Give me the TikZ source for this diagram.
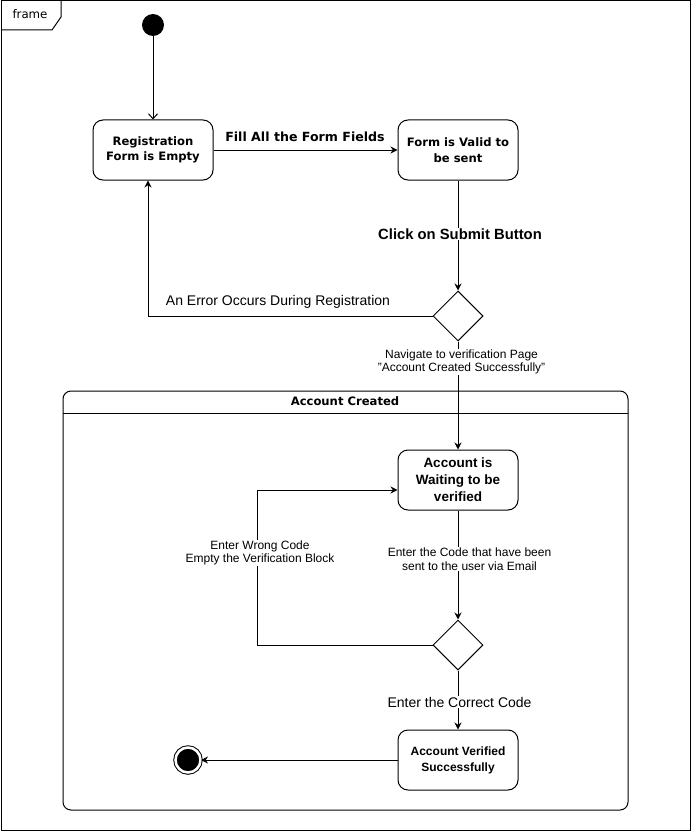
\documentclass[tikz,border=0pt]{standalone}
\usepackage{fontspec}
\setmainfont{Liberation Sans}
\newfontfamily\dejavu{DejaVu Sans}
\usetikzlibrary{shapes.geometric,arrows.meta}

\tikzset{
  x=1pt, y=-1pt,
  every path/.style={line width=1pt},
  state/.style={draw, rounded corners=10pt, minimum width=120pt, minimum height=60pt,
    inner sep=2pt, align=center},
  statedv/.style={state, font={\dejavu\bfseries\fontsize{11.6}{15.5}\selectfont}},
  statear/.style={state, font={\bfseries\fontsize{13.5}{17}\selectfont}},
  choice/.style={draw, diamond, minimum width=50pt, minimum height=50pt, inner sep=0pt},
  initial/.style={circle, fill=black, minimum size=22pt, inner sep=0pt},
  final/.style={circle, draw, double=white, double distance=2.5pt, fill=black,
    minimum size=25pt, inner sep=0pt},
  flow/.style={-{Stealth[length=7pt,width=7pt]}},
  openflow/.style={-{Straight Barb[length=5pt,width=9pt]}},
  lbl/.style={fill=white, inner sep=1pt, align=center},
  smalllbl/.style={lbl, font={\fontsize{12}{13.5}\selectfont}},
}

\begin{document}
\begin{tikzpicture}
  \useasboundingbox (0,0) rectangle (692,832);

  % outer frame with its name tab
  \draw (1,1) rectangle (690.5,830);
  \draw (1,30) -- (52,30) -- (61,17) -- (61,1);
  \node[font={\dejavu\fontsize{11.8}{14}\selectfont}] (frametitle) at (30,14) {frame};

  % composite state
  \draw[rounded corners=8pt] (63,391) rectangle (628,810);
  \draw (63,413) -- (628,413);
  \node[font={\dejavu\bfseries\fontsize{11.6}{14}\selectfont}] (compTitle) at (345,401) {Account Created};

  % states
  \node[initial] (start) at (153,25) {};
  \node[statedv] (reg) at (153,150) {Registration\\Form is Empty};
  \node[statedv] (valid) at (458,150) {Form is Valid to\\be sent};
  \node[choice] (d1) at (458,316) {};
  \node[statear] (wait) at (458,480) {Account is\\Waiting to be\\verified};
  \node[choice] (d2) at (458,645) {};
  \node[state, font={\bfseries\fontsize{12}{16}\selectfont}] (done) at (458,760) {Account Verified\\Successfully};
  \node[final] (end) at (188,760) {};

  % transitions
  \draw[openflow] (start) -- (reg);
  \draw[flow] (reg) -- (valid);
  \node[font={\dejavu\bfseries\fontsize{12.6}{15}\selectfont}] (fillLbl) at (305,137) {Fill All the Form Fields};

  \draw[flow] (valid) -- (d1);
  \node[lbl, font={\bfseries\fontsize{14.8}{17}\selectfont}] (clickLbl) at (460,234) {Click on Submit Button};

  \draw[flow] (d1.west) -| ([xshift=-5pt]reg.south);
  \node[font={\fontsize{14}{16}\selectfont}] (errLbl) at (278,302) {An Error Occurs During Registration};

  \draw[flow] (d1) -- (wait);
  \node[smalllbl] (navLbl) at (461.5,362) {Navigate to verification Page\\"Account Created Successfully"};

  \draw[flow] (wait) -- (d2);
  \node[smalllbl] (codeLbl) at (469.5,559) {Enter the Code that have been\\sent to the user via Email};

  \draw[flow] (d2.west) -- ++(-175,0) |- ([yshift=-10pt]wait.west);
  \node[smalllbl] (wrongLbl) at (260,553) {Enter Wrong Code\\Empty the Verification Block};

  \draw[flow] (d2) -- (done);
  \node[lbl, font={\fontsize{14}{16}\selectfont}] (okLbl) at (459.5,702) {Enter the Correct Code};

  \draw[flow] (done) -- (end);
\end{tikzpicture}
\end{document}
